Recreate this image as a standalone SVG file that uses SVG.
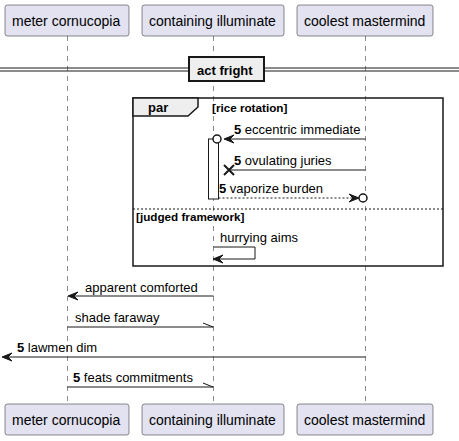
<svg xmlns="http://www.w3.org/2000/svg" width="459" height="441" viewBox="0 0 459 441">
<style>
.p{fill:#E2E2F0;stroke:#181818;stroke-width:0.5}
.pt{font-family:"Liberation Sans",Arial,sans-serif;font-size:14px;fill:#000}
.lf{stroke:#181818;stroke-width:0.5;stroke-dasharray:5,5;fill:none}
.m{stroke:#181818;stroke-width:1;fill:none}
.md{stroke:#181818;stroke-width:1;fill:none;stroke-dasharray:2,2}
.ah{fill:#181818;stroke:#181818;stroke-width:1}
.t{font-family:"Liberation Sans",Arial,sans-serif;font-size:13px;fill:#000}
.b{font-weight:bold}
.g{font-family:"Liberation Sans",Arial,sans-serif;font-size:11.7px;font-weight:bold;fill:#000}
</style>
<rect width="459" height="441" fill="#FFFFFF"/>
<g id="lifelines">
<line class="lf" x1="67.5" y1="36" x2="67.5" y2="404"/>
<line class="lf" x1="213.5" y1="36" x2="213.5" y2="404"/>
<line class="lf" x1="365.5" y1="36" x2="365.5" y2="404"/>
</g>
<g id="divider">
<line x1="0" y1="68" x2="459" y2="68" stroke="#181818" stroke-width="1"/>
<line x1="0" y1="71" x2="459" y2="71" stroke="#181818" stroke-width="1"/>
<rect x="189" y="57" width="75" height="24" fill="#EEEEEE" stroke="#181818" stroke-width="2"/>
<text class="t b" x="197" y="74.5">act fright</text>
</g>
<g id="par">
<rect x="133" y="98" width="310" height="168" fill="none" stroke="#181818" stroke-width="1.5"/>
<polygon points="133,98 198,98 198,107 188,116 133,116" fill="#EEEEEE" stroke="#181818" stroke-width="1.5"/>
<text class="t b" x="148" y="112">par</text>
<text class="g" x="212" y="112">[rice rotation]</text>
<line x1="133" y1="209" x2="443" y2="209" stroke="#181818" stroke-width="1" stroke-dasharray="2,2"/>
<text class="g" x="136" y="220.5">[judged framework]</text>
</g>
<g id="activation">
<rect x="208.5" y="139" width="10" height="60" fill="#FFFFFF" stroke="#181818" stroke-width="1"/>
</g>
<g id="connectors">
<line class="m" x1="365.5" y1="139" x2="226" y2="139"/>
<polygon class="ah" points="234,135 224,139 234,143 230,139"/>
<circle cx="217" cy="139" r="4" fill="#FFFFFF" stroke="#181818" stroke-width="1.5"/>
<text class="t" x="234" y="134"><tspan class="b">5</tspan> eccentric immediate</text>

<line class="m" x1="365.5" y1="170" x2="229" y2="170"/>
<path d="M224,165 L234,175 M224,175 L234,165" stroke="#181818" stroke-width="2" fill="none"/>
<text class="t" x="234" y="164.5"><tspan class="b">5</tspan> ovulating juries</text>

<line class="md" x1="218.5" y1="198" x2="357" y2="198"/>
<polygon class="ah" points="349,194 359,198 349,202 353,198"/>
<circle cx="363" cy="198" r="4" fill="#FFFFFF" stroke="#181818" stroke-width="1.5"/>
<text class="t" x="219" y="193"><tspan class="b">5</tspan> vaporize burden</text>

<polyline class="m" points="213.5,247 255,247 255,259 215,259"/>
<polygon class="ah" points="223,255 213,259 223,263 219,259"/>
<text class="t" x="220" y="242">hurrying aims</text>

<line class="m" x1="213.5" y1="296" x2="70" y2="296"/>
<polygon class="ah" points="78,292 68,296 78,300 74,296"/>
<text class="t" x="85" y="292">apparent comforted</text>

<line class="m" x1="67.5" y1="327" x2="213.5" y2="327"/>
<line class="m" x1="203" y1="323" x2="213" y2="327"/>
<text class="t" x="75" y="321.5">shade faraway</text>

<line class="m" x1="365.5" y1="357" x2="4" y2="357"/>
<polygon class="ah" points="12,353 2,357 12,361 8,357"/>
<text class="t" x="17" y="352"><tspan class="b">5</tspan> lawmen dim</text>

<line class="m" x1="67.5" y1="387" x2="213.5" y2="387"/>
<line class="m" x1="203" y1="383" x2="213" y2="387"/>
<text class="t" x="73" y="382"><tspan class="b">5</tspan> feats commitments</text>
</g>
<g id="p1">
<rect class="p" x="5" y="5" width="124" height="31" rx="2.5"/>
<text class="pt" x="12" y="26">meter cornucopia</text>
</g>
<g id="p2">
<rect class="p" x="142" y="5" width="142" height="31" rx="2.5"/>
<text class="pt" x="149" y="26">containing illuminate</text>
</g>
<g id="p3">
<rect class="p" x="297" y="5" width="136" height="31" rx="2.5"/>
<text class="pt" x="304" y="26">coolest mastermind</text>
</g>
<g id="p1b">
<rect class="p" x="5" y="404" width="124" height="31" rx="2.5"/>
<text class="pt" x="12" y="425">meter cornucopia</text>
</g>
<g id="p2b">
<rect class="p" x="142" y="404" width="142" height="31" rx="2.5"/>
<text class="pt" x="149" y="425">containing illuminate</text>
</g>
<g id="p3b">
<rect class="p" x="297" y="404" width="136" height="31" rx="2.5"/>
<text class="pt" x="304" y="425">coolest mastermind</text>
</g>
</svg>
